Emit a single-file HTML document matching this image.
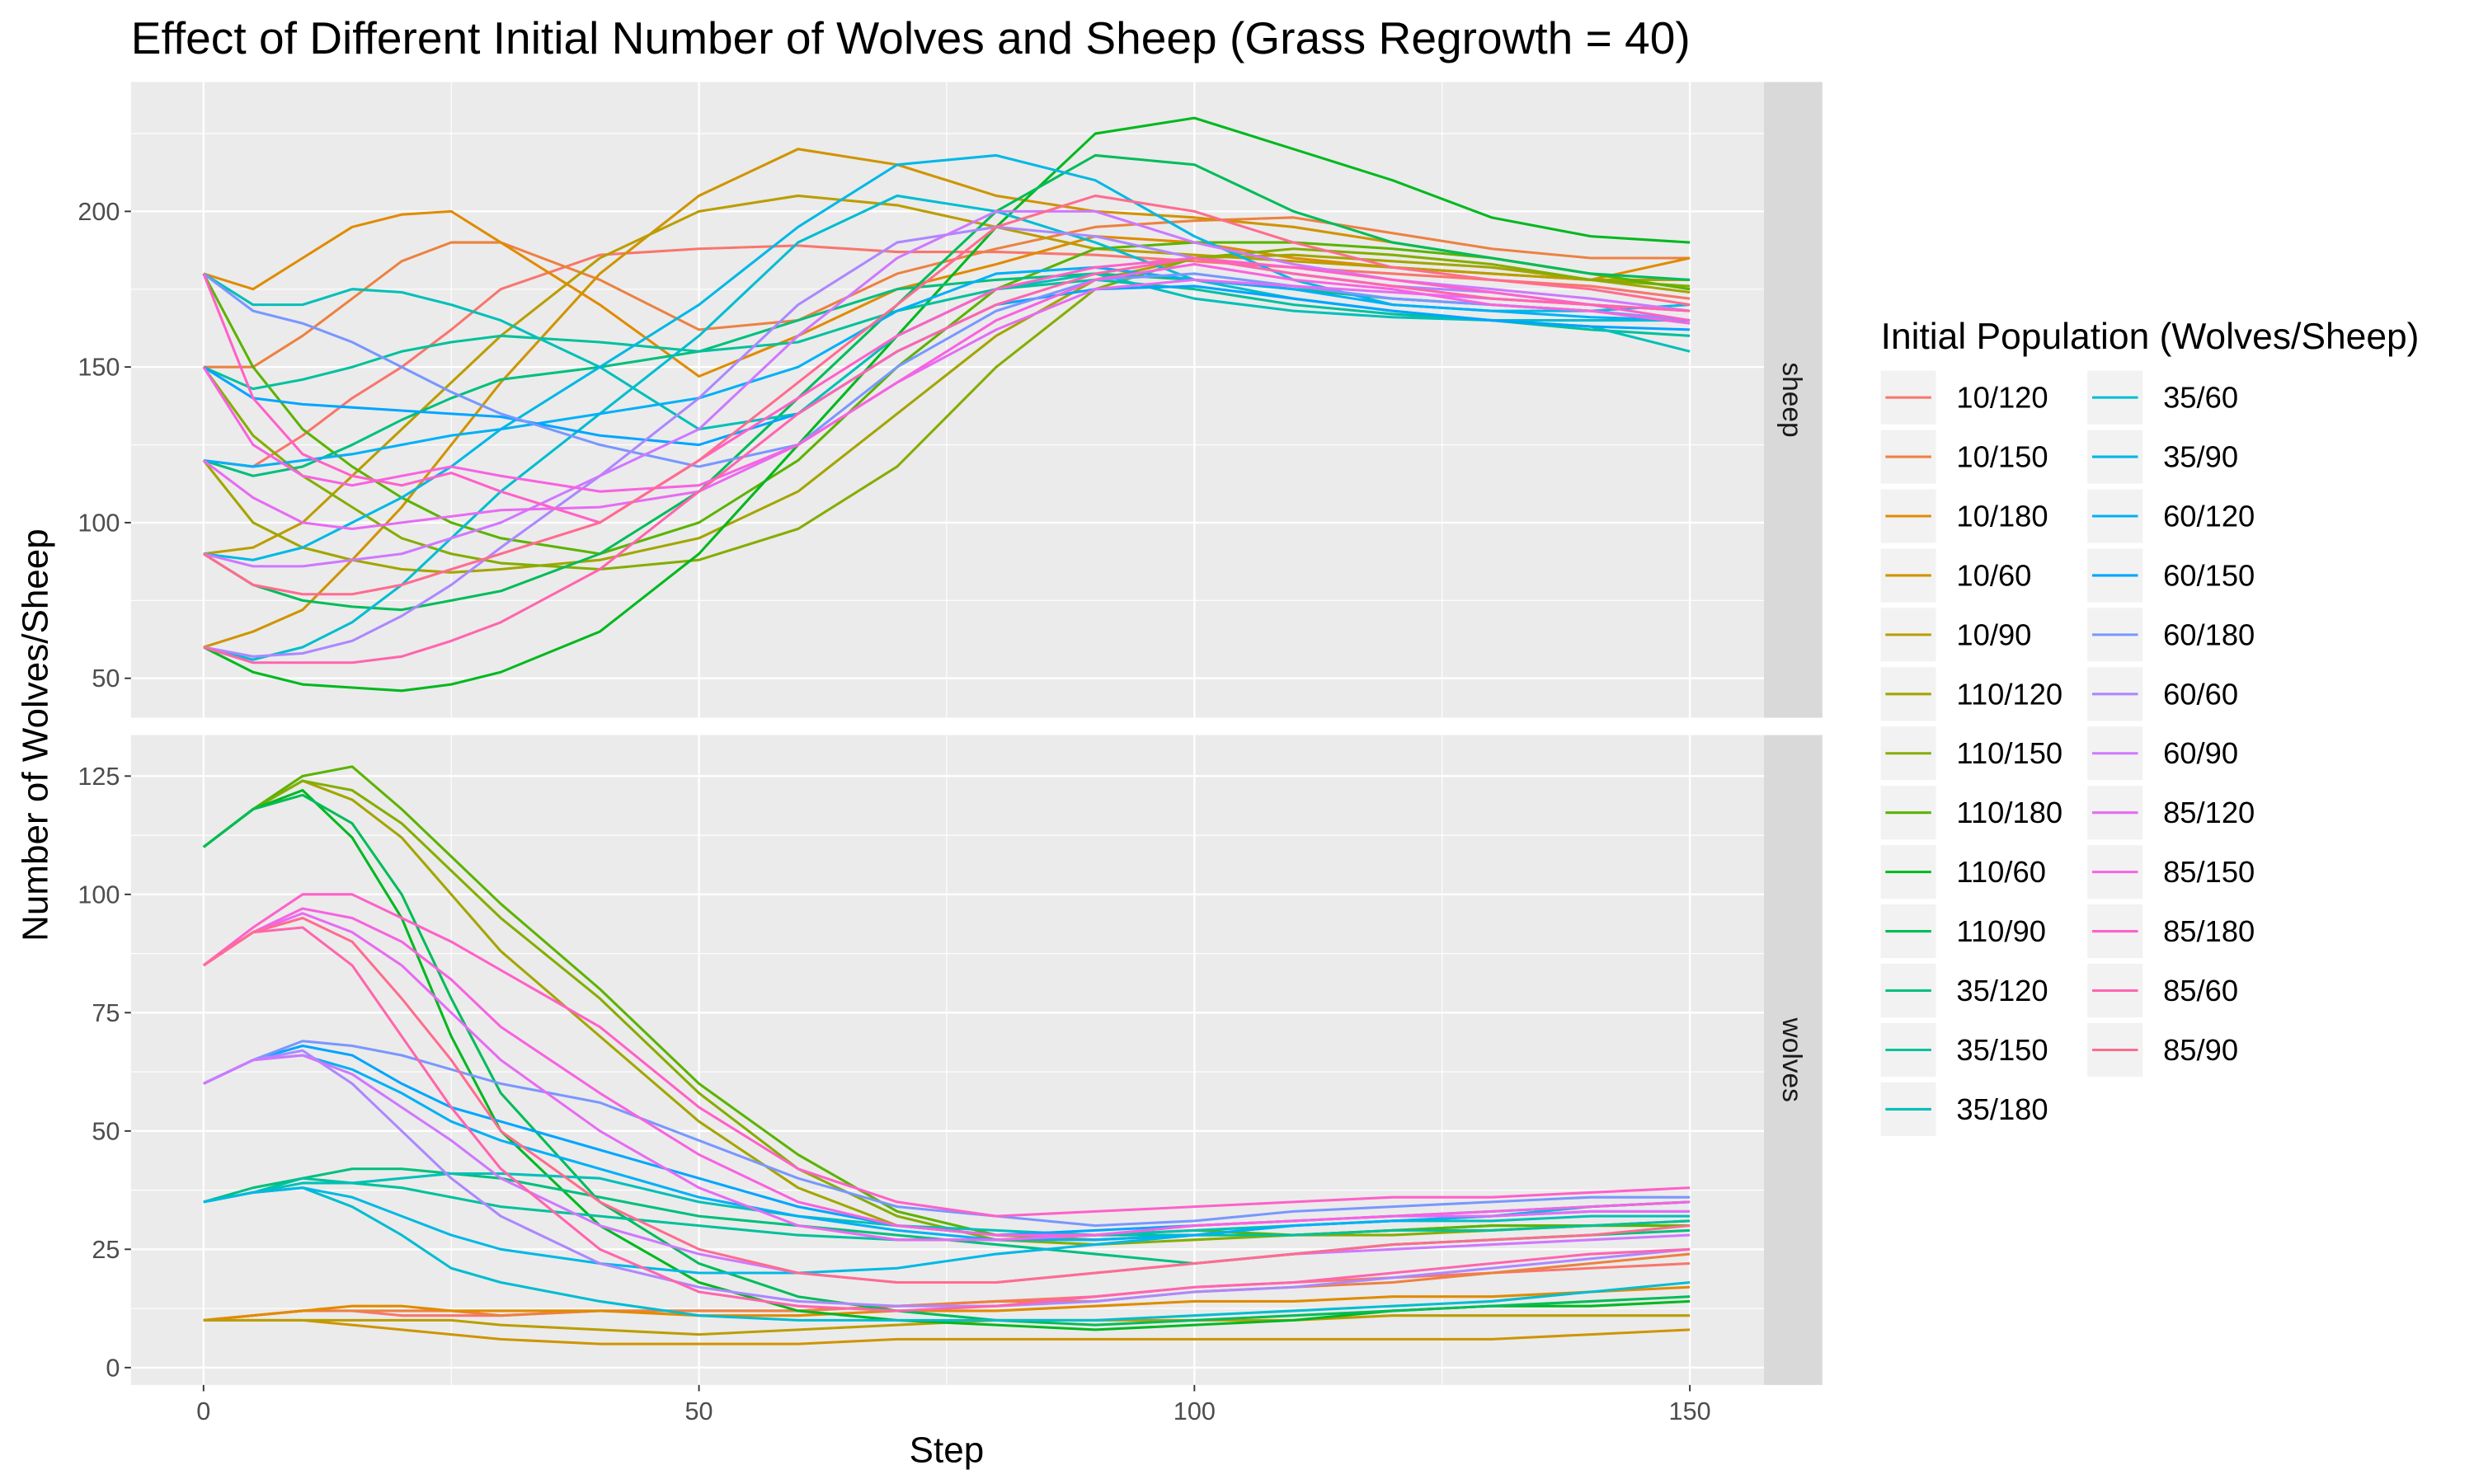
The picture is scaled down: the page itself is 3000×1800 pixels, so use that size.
<!DOCTYPE html>
<html><head><meta charset="utf-8"><style>
html,body{margin:0;padding:0;background:#fff;}
svg{display:block;font-family:"Liberation Sans",Arial,sans-serif;}
</style></head><body>
<svg id="chart" width="3000" height="1800" viewBox="0 0 1568 940.8" preserveAspectRatio="none" xmlns="http://www.w3.org/2000/svg">
<text x="83" y="34" font-size="28.8" fill="#000">Effect of Different Initial Number of Wolves and Sheep (Grass Regrowth = 40)</text>
<text x="0" y="0" font-size="23" fill="#000" text-anchor="middle" transform="translate(30,466) rotate(-90)">Number of Wolves/Sheep</text>
<text x="600" y="927" font-size="23" fill="#000" text-anchor="middle">Step</text>
<g id="panels"></g>
<g id="legend"></g>
</svg>
<script>
const steps=[0,5,10,15,20,25,30,40,50,60,70,80,90,100,110,120,130,140,150];
const groups=["10/120","10/150","10/180","10/60","10/90","110/120","110/150","110/180","110/60","110/90","35/120","35/150","35/180","35/60","35/90","60/120","60/150","60/180","60/60","60/90","85/120","85/150","85/180","85/60","85/90"];
const sheep=[
[120,118,128,140,150,162,175,186,188,189,187,187,186,184,182,180,178,176,172],
[150,150,160,172,184,190,190,178,162,165,180,188,195,197,198,193,188,185,185],
[180,175,185,195,199,200,190,170,147,160,175,183,192,190,185,182,180,178,185],
[60,65,72,88,105,125,145,180,205,220,215,205,200,198,195,190,185,180,175],
[90,92,100,115,130,145,160,185,200,205,202,195,188,186,184,182,180,178,178],
[120,100,92,88,85,84,85,88,95,110,135,160,178,185,186,184,182,178,174],
[150,128,115,105,95,90,87,85,88,98,118,150,175,185,188,186,183,178,176],
[180,150,130,118,108,100,95,90,100,120,150,175,188,190,190,188,185,180,175],
[60,52,48,47,46,48,52,65,90,125,160,195,225,230,220,210,198,192,190],
[90,80,75,73,72,75,78,90,110,140,170,200,218,215,200,190,185,180,178],
[120,115,118,125,133,140,146,150,155,165,175,178,180,178,175,172,170,168,165],
[150,143,146,150,155,158,160,158,155,158,168,175,178,175,170,167,165,162,160],
[180,170,170,175,174,170,165,150,130,135,160,175,180,172,168,166,165,163,155],
[60,56,60,68,80,95,110,135,160,190,205,200,190,178,172,168,165,165,165],
[90,88,92,100,108,118,130,150,170,195,215,218,210,192,178,170,168,168,170],
[120,118,120,122,125,128,130,135,140,150,168,180,182,178,175,170,168,166,165],
[150,140,138,137,136,135,134,128,125,135,155,170,175,176,172,168,165,163,162],
[180,168,164,158,150,142,135,125,118,125,150,168,178,180,176,172,170,168,165],
[60,57,58,62,70,80,92,115,140,170,190,195,192,185,180,176,174,170,168],
[90,86,86,88,90,95,100,115,130,160,185,200,200,190,183,178,175,172,168],
[120,108,100,98,100,102,104,105,110,125,145,162,175,178,176,174,172,170,168],
[150,125,115,112,115,118,115,110,112,125,145,165,178,183,178,175,170,168,164],
[180,140,122,115,112,116,110,100,120,140,160,175,182,185,182,178,174,170,165],
[60,55,55,55,57,62,68,85,110,135,155,170,180,185,180,176,172,170,168],
[90,80,77,77,80,85,90,100,120,145,170,195,205,200,190,182,178,175,170]];
const wolves=[
[10,11,12,12,11,11,11,12,12,12,13,14,15,17,18,19,20,21,22],
[10,11,12,12,12,12,11,12,12,12,13,14,14,16,17,18,20,22,24],
[10,11,12,13,13,12,12,12,11,11,12,12,13,14,14,15,15,16,17],
[10,10,10,9,8,7,6,5,5,5,6,6,6,6,6,6,6,7,8],
[10,10,10,10,10,10,9,8,7,8,9,10,10,10,10,11,11,11,11],
[110,118,124,120,112,100,88,70,52,38,30,28,27,28,28,29,30,30,30],
[110,118,124,122,115,105,95,78,58,42,32,27,26,27,28,28,29,30,31],
[110,118,125,127,118,108,98,80,60,45,33,28,28,29,28,29,30,30,30],
[110,118,122,112,95,70,50,30,18,12,10,9,8,9,10,12,13,13,14],
[110,118,121,115,100,78,58,35,22,15,12,10,9,10,11,12,13,14,15],
[35,38,40,42,42,41,40,36,32,30,28,26,24,22,24,26,27,28,29],
[35,37,40,39,38,36,34,32,30,28,27,27,28,28,28,29,29,30,31],
[35,37,39,39,40,41,41,40,35,32,30,29,28,29,30,31,31,32,32],
[35,37,38,34,28,21,18,14,11,10,10,10,10,11,12,13,14,16,18],
[35,37,38,36,32,28,25,22,20,20,21,24,26,28,30,31,32,34,35],
[60,65,66,63,58,52,48,42,36,32,29,27,27,28,30,31,32,33,33],
[60,65,68,66,60,55,52,46,40,34,30,28,29,30,31,32,33,34,35],
[60,65,69,68,66,63,60,56,48,40,34,32,30,31,33,34,35,36,36],
[60,65,67,60,50,40,32,22,17,14,13,13,14,16,17,19,21,23,25],
[60,65,66,62,55,48,40,30,24,20,18,18,20,22,24,25,26,27,28],
[85,92,96,92,85,75,65,50,38,30,27,27,28,30,31,32,32,33,33],
[85,92,97,95,90,82,72,58,45,35,30,28,28,30,31,32,33,34,35],
[85,93,100,100,95,90,84,72,55,42,35,32,33,34,35,36,36,37,38],
[85,92,93,85,70,55,42,25,16,13,12,13,15,17,18,20,22,24,25],
[85,92,95,90,78,65,50,35,25,20,18,18,20,22,24,26,27,28,30]];
const xTicks=[0,50,100,150];
const sheepTicks=[50,100,150,200];
const wolvesTicks=[0,25,50,75,100,125];

const NS="http://www.w3.org/2000/svg";
function mk(tag,attrs,parent){const e=document.createElementNS(NS,tag);for(const k in attrs)e.setAttribute(k,attrs[k]);parent.appendChild(e);return e;}
function hcl(h,c,l){const hr=h*Math.PI/180;const U=c*Math.cos(hr),V=c*Math.sin(hr);
 const Xn=95.047,Yn=100,Zn=108.883;const un=4*Xn/(Xn+15*Yn+3*Zn),vn=9*Yn/(Xn+15*Yn+3*Zn);
 const Y=l>8?Yn*Math.pow((l+16)/116,3):Yn*l/903.3;const u=U/(13*l)+un,v=V/(13*l)+vn;
 const X=9*Y*u/(4*v),Z=-X/3-5*Y+3*Y/v;
 const lin=[3.240479*X-1.53715*Y-0.498535*Z,-0.969256*X+1.875992*Y+0.041556*Z,0.055648*X-0.204043*Y+1.057311*Z].map(t=>t/100);
 const g=lin.map(t=>{t=t<=0.0031308?12.92*t:1.055*Math.pow(t,1/2.4)-0.055;return Math.round(Math.max(0,Math.min(1,t))*255);});
 return `rgb(${g[0]},${g[1]},${g[2]})`;}
const colors=groups.map((g,i)=>hcl(15+360*i/groups.length,100,65));

const X0=83,X1=1118;
const xs=s=>129+s*(1071-129)/150;
const panels=[
 {name:"sheep",data:sheep,ticks:sheepTicks,minor:[75,125,175,225],top:52,bot:455,y:v=>134+(v-200)*(430-134)/(50-200)},
 {name:"wolves",data:wolves,ticks:wolvesTicks,minor:[12.5,37.5,62.5,87.5,112.5],top:466,bot:878,y:v=>867+(v-0)*(492-867)/125}];
const P=document.getElementById('panels');
panels.forEach(p=>{
 const g=mk('g',{},P);
 
 
 mk('rect',{x:X0,y:p.top,width:X1-X0,height:p.bot-p.top,fill:'#ebebeb'},g);
 p.minor.forEach(v=>{const y=p.y(v);if(y>p.top&&y<p.bot)mk('line',{x1:X0,x2:X1,y1:y,y2:y,stroke:'#fff','stroke-width':0.6},g);});
 [25,75,125].forEach(s=>mk('line',{x1:xs(s),x2:xs(s),y1:p.top,y2:p.bot,stroke:'#fff','stroke-width':0.6},g));
 p.ticks.forEach(v=>{const y=p.y(v);
  mk('line',{x1:X0,x2:X1,y1:y,y2:y,stroke:'#fff','stroke-width':1.2},g);
  mk('line',{x1:X0-4,x2:X0,y1:y,y2:y,stroke:'#333','stroke-width':1},g);
  const t=mk('text',{x:X0-7,y:y+5.5,'font-size':16,fill:'#4d4d4d','text-anchor':'end'},g);t.textContent=v;
  
  });
 xTicks.forEach(s=>mk('line',{x1:xs(s),x2:xs(s),y1:p.top,y2:p.bot,stroke:'#fff','stroke-width':1.2},g));
 p.data.forEach((ser,i)=>{
  const pts=ser.map((v,j)=>xs(steps[j]).toFixed(1)+','+p.y(v).toFixed(1)).join(' ');
  const l=mk('polyline',{points:pts,fill:'none',stroke:colors[i],'stroke-width':1.6,'stroke-linejoin':'round'},g);
  
  });
 mk('rect',{x:X1,y:p.top,width:37,height:p.bot-p.top,fill:'#d9d9d9'},g);
 const st=mk('text',{x:0,y:0,'font-size':17.5,fill:'#1a1a1a','text-anchor':'middle',transform:`translate(${X1+12},${(p.top+p.bot)/2}) rotate(90)`},g);
 st.textContent=p.name;
 
 
});
const ax=mk('g',{},P);


xTicks.forEach(s=>{mk('line',{x1:xs(s),x2:xs(s),y1:878,y2:882,stroke:'#333','stroke-width':1},ax);
 const t=mk('text',{x:xs(s),y:900,'font-size':16,fill:'#4d4d4d','text-anchor':'middle'},ax);t.textContent=s;
 
 });
const L=document.getElementById('legend');
const lt=mk('text',{x:1192,y:221,'font-size':23.2,fill:'#000'},L);lt.textContent='Initial Population (Wolves/Sheep)';


groups.forEach((gname,i)=>{
 const col=i<13?0:1,row=i<13?i:i-13;
 const kx=col?1323:1192,cy=252+row*37.6;
 const e=mk('g',{},L);
 
 
 mk('rect',{x:kx,y:cy-17,width:35,height:34,fill:'#f2f2f2'},e);
 mk('line',{x1:kx+3,x2:kx+32,y1:cy,y2:cy,stroke:colors[i],'stroke-width':1.6},e);
 const t=mk('text',{x:kx+48,y:cy+6.5,'font-size':19,fill:'#000'},e);t.textContent=gname;
});
</script>
</body></html>
